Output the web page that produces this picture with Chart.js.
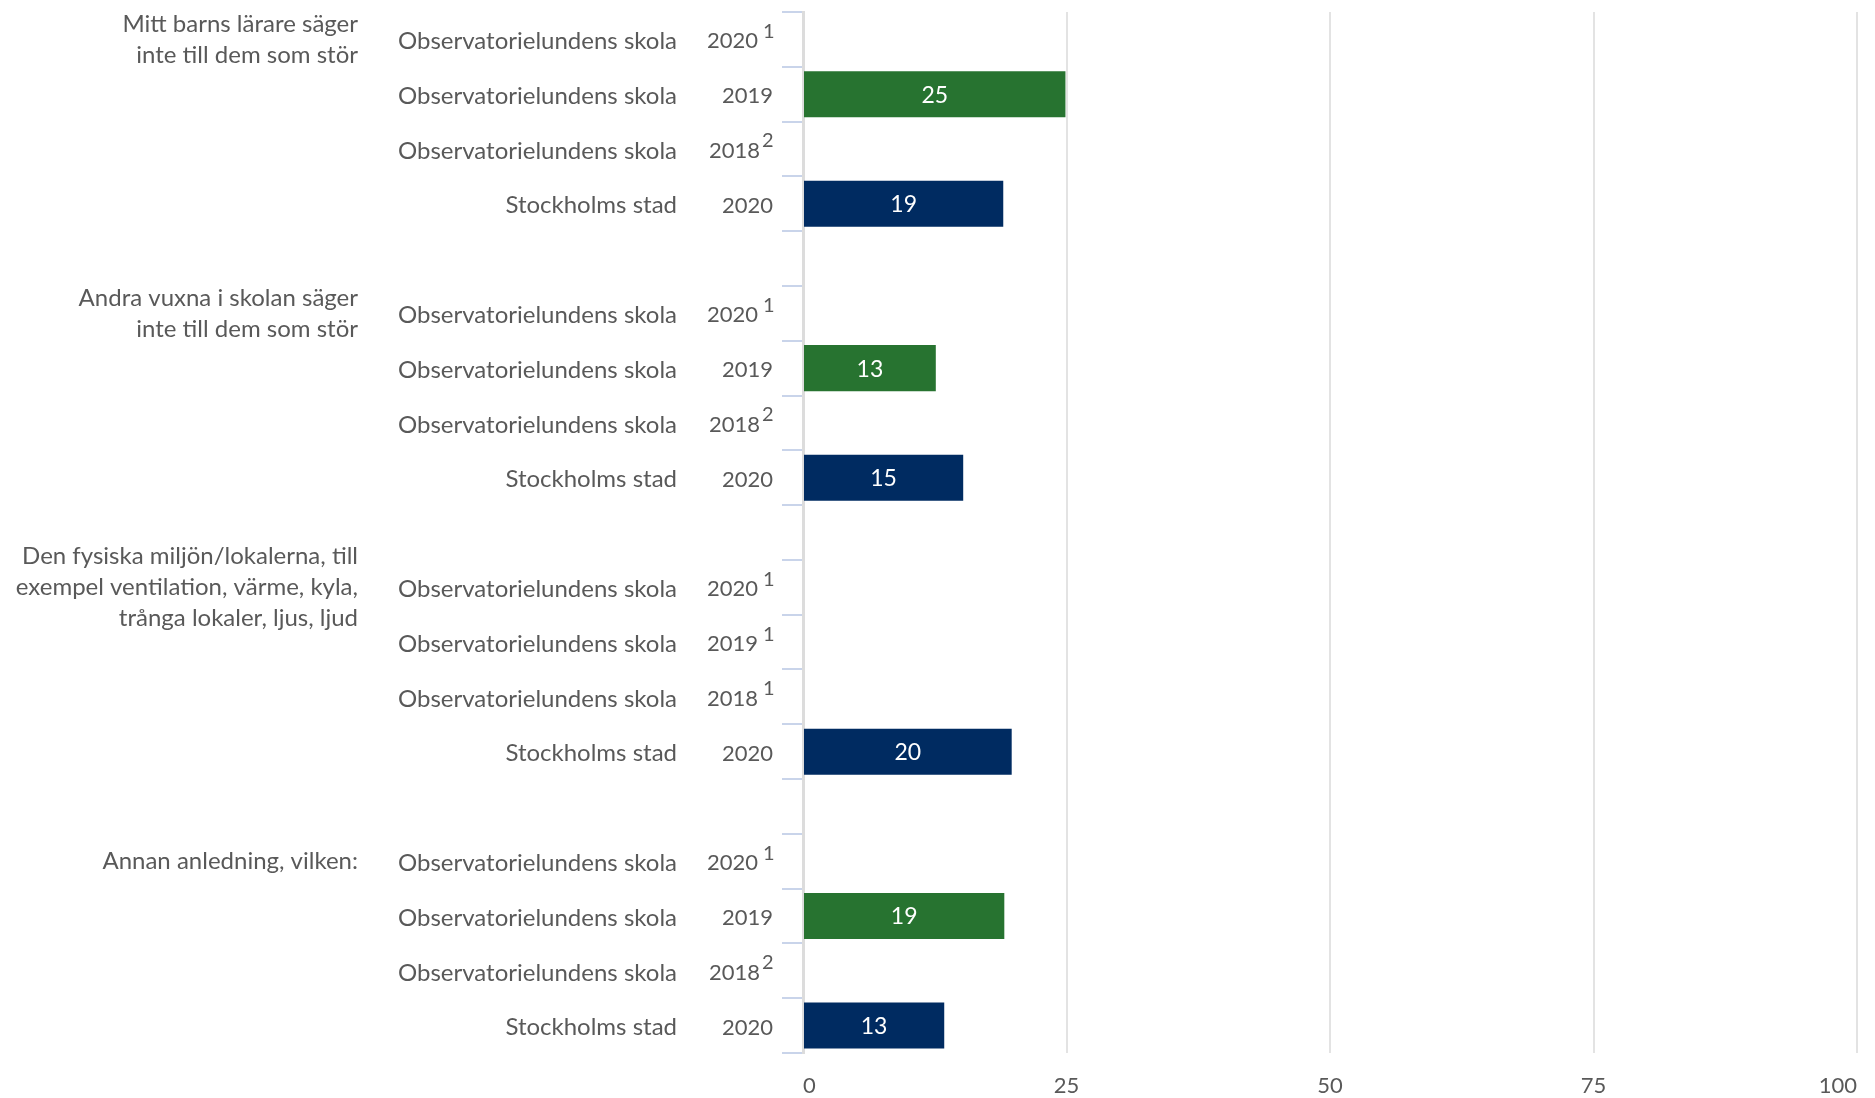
<!DOCTYPE html>
<html lang="sv">
<head>
<meta charset="utf-8">
<title>Skäl till störningar</title>
<script src="https://cdn.jsdelivr.net/npm/chart.js@4/dist/chart.umd.min.js"></script>
<style>
  html, body { margin: 0; padding: 0; background: #fff; }
  #wrap { width: 1875px; height: 1098px; position: relative; }
</style>
</head>
<body>
<div id="wrap"><canvas id="chart"></canvas></div>
<script>
// group headings (one per block of rows), each as lines
const groupLabels = [
    ['Mitt barns lärare säger', 'inte till dem som stör'],
    ['Andra vuxna i skolan säger', 'inte till dem som stör'],
    ['Den fysiska miljön/lokalerna, till', 'exempel ventilation, värme, kyla,', 'trånga lokaler, ljus, ljud'],
    ['Annan anledning, vilken:']
];
// first row index of each group
const groupStarts = [0, 5, 10, 15];

const rowNames = [
    'Observatorielundens skola', 'Observatorielundens skola', 'Observatorielundens skola', 'Stockholms stad', '',
    'Observatorielundens skola', 'Observatorielundens skola', 'Observatorielundens skola', 'Stockholms stad', '',
    'Observatorielundens skola', 'Observatorielundens skola', 'Observatorielundens skola', 'Stockholms stad', '',
    'Observatorielundens skola', 'Observatorielundens skola', 'Observatorielundens skola', 'Stockholms stad'
];
const rowYears = [
    '2020', '2019', '2018', '2020', '',
    '2020', '2019', '2018', '2020', '',
    '2020', '2019', '2018', '2020', '',
    '2020', '2019', '2018', '2020'
];
const rowNotes = [
    '1', '', '2', '', '',
    '1', '', '2', '', '',
    '1', '1', '1', '', '',
    '1', '', '2', ''
];

// percent values
const schoolValues = [
    null, 24.9, null, null, null,
    null, 12.6, null, null, null,
    null, null, null, null, null,
    null, 19.1, null, null
];
const cityValues = [
    null, null, null, 19.0, null,
    null, null, null, 15.2, null,
    null, null, null, 19.8, null,
    null, null, null, 13.4
];

const xTicks = [0, 25, 50, 75, 100];

const FONT = 'Lato, "Noto Sans", sans-serif';
const TEXT = '#595959';

const rowLabelPlugin = {
    id: 'rowLabels',
    afterDraw(chart) {
        const ctx = chart.ctx;
        const y = chart.scales.y;
        ctx.save();
        ctx.fillStyle = TEXT;
        ctx.textBaseline = 'middle';
        rowNames.forEach((name, i) => {
            if (!name) return;
            const py = y.getPixelForValue(i);
            ctx.textAlign = 'right';
            ctx.font = '24px ' + FONT;
            ctx.fillText(name, 677, py + 2);
            ctx.font = '22px ' + FONT;
            if (rowNotes[i] === '1') {
                ctx.fillText(rowYears[i], 758, py + 2);
                ctx.textAlign = 'left';
                ctx.font = '20px ' + FONT;
                ctx.fillText(rowNotes[i], 763, py - 8);
            } else if (rowNotes[i]) {
                ctx.fillText(rowYears[i], 760, py + 2);
                ctx.textAlign = 'left';
                ctx.font = '20px ' + FONT;
                ctx.fillText(rowNotes[i], 762, py - 8);
            } else {
                ctx.fillText(rowYears[i], 773, py + 2);
            }
        });
        // group headings, centred on the first row of the group
        ctx.textAlign = 'right';
        ctx.font = '24px ' + FONT;
        const lineH = 31;
        groupLabels.forEach((lines, g) => {
            const py = y.getPixelForValue(groupStarts[g]);
            const top = py - (lines.length - 1) * lineH / 2;
            lines.forEach((line, k) => ctx.fillText(line, 358, top + k * lineH));
        });
        ctx.restore();
    }
};

const valueLabelPlugin = {
    id: 'valueLabels',
    afterDatasetsDraw(chart) {
        const ctx = chart.ctx;
        ctx.save();
        ctx.fillStyle = '#ffffff';
        ctx.font = '23px ' + FONT;
        ctx.textAlign = 'center';
        ctx.textBaseline = 'middle';
        chart.data.datasets.forEach((ds, di) => {
            const meta = chart.getDatasetMeta(di);
            meta.data.forEach((bar, i) => {
                const v = ds.data[i];
                if (v === null || v === undefined) return;
                ctx.fillText(Math.round(v), (bar.x + bar.base) / 2, bar.y + 1);
            });
        });
        ctx.restore();
    }
};

new Chart(document.getElementById('chart'), {
    type: 'bar',
    data: {
        labels: rowNames,
        datasets: [{
            label: 'Observatorielundens skola',
            data: schoolValues,
            backgroundColor: '#277330',
            categoryPercentage: 1,
            barPercentage: 0.84
        }, {
            label: 'Stockholms stad',
            data: cityValues,
            backgroundColor: '#002b61',
            categoryPercentage: 1,
            barPercentage: 0.84
        }]
    },
    options: {
        indexAxis: 'y',
        responsive: true,
        maintainAspectRatio: false,
        animation: false,
        devicePixelRatio: 1,
        layout: { padding: { left: 782, right: 0, top: 12, bottom: 0 } },
        plugins: {
            legend: { display: false },
            tooltip: { enabled: false }
        },
        scales: {
            x: {
                stacked: true,
                min: 0,
                max: 100,
                afterBuildTicks: (axis) => { axis.ticks = xTicks.map(v => ({ value: v })); },
                afterFit: (axis) => {
                    axis.height = 45;
                    axis.paddingRight = 18;
                },
                grid: { color: '#e3e3e3', lineWidth: 2, drawTicks: false },
                border: { display: false },
                ticks: { color: TEXT, font: { family: FONT, size: 22 }, padding: 20, align: 'inner' }
            },
            y: {
                stacked: true,
                grid: { color: '#c9d4ea', lineWidth: 2, drawOnChartArea: false, drawTicks: true, tickLength: 21 },
                border: { display: true, color: '#dcdcdc', width: 3 },
                ticks: { display: false }
            }
        }
    },
    plugins: [rowLabelPlugin, valueLabelPlugin]
});
</script>
</body>
</html>
